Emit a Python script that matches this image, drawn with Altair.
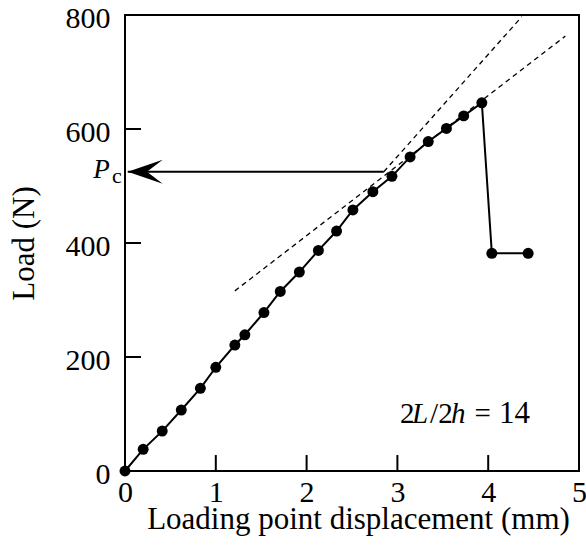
import altair as alt
import pandas as pd

# ---- data ----
disp = [0, 0.20, 0.41, 0.62, 0.83, 1.00, 1.21, 1.32, 1.53, 1.71, 1.92, 2.13,
        2.33, 2.51, 2.73, 2.94, 3.14, 3.34, 3.54, 3.73, 3.93, 4.04, 4.44]
load = [0, 38, 70, 107, 145, 182, 221, 239, 278, 315, 349, 387,
        421, 458, 490, 517, 551, 578, 601, 623, 646, 382, 382]

# dashed reference lines (two segments, endpoints)
dash_seg = ["steep", "steep", "shallow", "shallow"]
dash_x = [2.85, 4.37, 1.21, 4.85]
dash_y = [525, 797, 316, 763]

# critical load arrow
pc_load = 525
arrow_x = [0.03, 2.85]

x_ticks = [1, 2, 3, 4]
y_ticks = [200, 400, 600]
x_tick_len = 0.176   # inward tick length in x data units
y_tick_len = 28      # inward tick length in y data units

FONT = "Liberation Serif"
W, H = 454, 456

df = pd.DataFrame({"d": disp, "P": load})
dash_df = pd.DataFrame({"seg": dash_seg, "d": dash_x, "P": dash_y})
arrow_df = pd.DataFrame({"d": arrow_x, "P": [pc_load, pc_load]})

# tick segments built from tick lists
tick_rows = []
for v in x_ticks:
    tick_rows.append({"id": f"x{v}", "d": v, "P": 0})
    tick_rows.append({"id": f"x{v}", "d": v, "P": y_tick_len})
for v in y_ticks:
    tick_rows.append({"id": f"y{v}", "d": 0, "P": v})
    tick_rows.append({"id": f"y{v}", "d": x_tick_len, "P": v})
tick_df = pd.DataFrame(tick_rows)

xs = alt.Scale(domain=[0, 5], nice=False, zero=False)
ys = alt.Scale(domain=[0, 800], nice=False, zero=False)

x_axis = alt.Axis(values=[0, 1, 2, 3, 4, 5], format="d", ticks=False, domain=False, grid=False,
                  labelFont=FONT, labelFontSize=30, labelColor="black", labelPadding=6,
                  labelFlush=False, labelOverlap=False, labelBound=False,
                  title="Loading point displacement (mm)", titleFont=FONT,
                  titleFontSize=31, titleFontWeight="normal", titleColor="black",
                  titleBaseline="alphabetic", titleY=57, titleX=233, titleAlign="center")
y_axis = alt.Axis(values=[0, 200, 400, 600, 800], format="d", ticks=False, domain=False, grid=False,
                  labelFont=FONT, labelFontSize=30, labelColor="black", labelPadding=15,
                  labelFlush=False, labelOverlap=False, labelOffset=3,
                  title="Load (N)", titleFont=FONT, titleFontSize=31,
                  titleFontWeight="normal", titleColor="black",
                  titleBaseline="alphabetic", titleX=-92, titleY=228,
                  titleAngle=-90, titleAlign="center")

line = alt.Chart(df).mark_line(color="black", strokeWidth=2).encode(
    x=alt.X("d:Q", scale=xs, axis=x_axis),
    y=alt.Y("P:Q", scale=ys, axis=y_axis),
)
pts = alt.Chart(df).mark_circle(color="black", opacity=1, size=120).encode(
    x=alt.X("d:Q", scale=xs), y=alt.Y("P:Q", scale=ys)
)
dashes = alt.Chart(dash_df).mark_line(color="black", strokeWidth=1.3,
                                       strokeDash=[5, 4]).encode(
    x=alt.X("d:Q", scale=xs), y=alt.Y("P:Q", scale=ys), detail="seg:N"
)
ticks = alt.Chart(tick_df).mark_line(color="black", strokeWidth=2).encode(
    x=alt.X("d:Q", scale=xs), y=alt.Y("P:Q", scale=ys), detail="id:N"
)
arrow_line = alt.Chart(arrow_df).mark_line(color="black", strokeWidth=2).encode(
    x=alt.X("d:Q", scale=xs), y=alt.Y("P:Q", scale=ys)
)
arrow_head = alt.Chart(pd.DataFrame({"d": [arrow_x[0]], "P": [pc_load]})).mark_point(
    shape="M0,0 L2,-0.69 L1.1,0 L2,0.69 Z", filled=True, color="black",
    opacity=1, size=1225, strokeWidth=0
).encode(x=alt.X("d:Q", scale=xs), y=alt.Y("P:Q", scale=ys))

# annotations
def txt(s, d, p, size=29, style="normal", align="left"):
    return alt.Chart(pd.DataFrame({"d": [d], "P": [p], "t": [s]})).mark_text(
        font=FONT, fontSize=size, fontStyle=style, align=align,
        baseline="alphabetic", color="black"
    ).encode(x=alt.X("d:Q", scale=xs), y=alt.Y("P:Q", scale=ys), text="t:N")

ann = [
    txt("2", 3.03, 84),
    txt("L", 3.16, 84, style="italic"),
    txt("/2", 3.36, 84),
    txt("h", 3.59, 84, style="italic"),
    txt("=", 3.94, 84, align="center"),
    txt("14", 4.12, 84, size=31),
    txt("P", -0.35, 514, size=27, style="italic"),
    txt("c", -0.143, 505, size=22),
]

chart = alt.layer(dashes, arrow_line, arrow_head, line, pts, *ann, ticks).properties(
    width=W, height=H,
    autosize=alt.AutoSizeParams(type="none"),
    padding={"left": 125, "top": 15, "right": 7, "bottom": 80},
    background="white",
).configure_view(stroke="black", strokeWidth=2)

chart.save("out.html", embed_options={"renderer": "svg", "actions": False})
